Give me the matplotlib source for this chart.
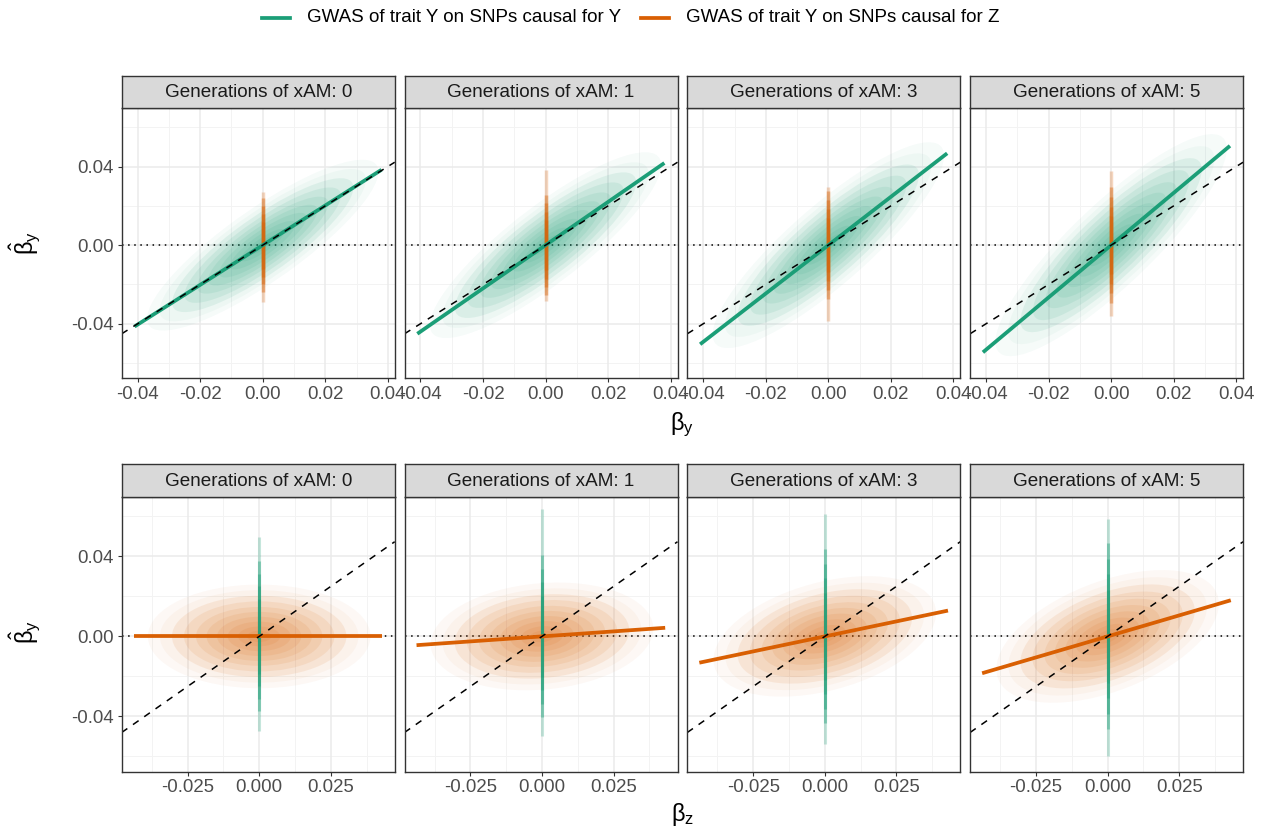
import numpy as np
import matplotlib
matplotlib.use("Agg")
import matplotlib.pyplot as plt
from matplotlib.patches import Ellipse
from matplotlib.lines import Line2D

plt.rcParams['font.family'] = ['Liberation Sans', 'DejaVu Sans']
plt.rcParams['mathtext.fontset'] = 'custom'
plt.rcParams['mathtext.rm'] = 'Liberation Sans'
plt.rcParams['mathtext.it'] = 'Liberation Sans'
plt.rcParams['mathtext.bf'] = 'Liberation Sans:bold'

# ---------------- data ----------------
generations = [0, 1, 3, 5]
strip_labels = [f"Generations of xAM: {g}" for g in generations]
legend_labels = ["GWAS of trait Y on SNPs causal for Y",
                 "GWAS of trait Y on SNPs causal for Z"]

# top row: beta_hat_y vs beta_y
top_slopes = [1.01, 1.10, 1.23, 1.33]
top_fit_x = [-0.041, 0.038]
top_cloud_xsd = [0.0100, 0.0100, 0.0100, 0.0100]
top_cloud_resid = [0.0060, 0.0065, 0.0070, 0.0075]
top_strip_sd = [0.0080, 0.0085, 0.0092, 0.0098]
top_strip_range = [(-0.029, 0.027), (-0.0285, 0.0385),
                   (-0.0386, 0.0297), (-0.036, 0.0376)]

# bottom row: beta_hat_y vs beta_z
bottom_slopes = [0.0, 0.10, 0.30, 0.42]
bottom_fit_x = [-0.0438, 0.0430]
bottom_cloud_xsd = [0.0105, 0.0105, 0.0105, 0.0105]
bottom_cloud_resid = [0.0070, 0.0072, 0.0075, 0.0078]
bottom_strip_sd = [0.0125, 0.0135, 0.0145, 0.0155]
bottom_strip_range = [(-0.0475, 0.0495), (-0.0497, 0.0637),
                      (-0.054, 0.061), (-0.0597, 0.0587)]

top_xticks = [-0.04, -0.02, 0.00, 0.02, 0.04]
top_xticklabels = ["-0.04", "-0.02", "0.00", "0.02", "0.04"]
top_xminor = [-0.03, -0.01, 0.01, 0.03]
bottom_xticks = [-0.025, 0.0, 0.025]
bottom_xticklabels = ["-0.025", "0.000", "0.025"]
bottom_xminor = [-0.0375, -0.0125, 0.0125, 0.0375]
yticks = [-0.04, 0.0, 0.04]
yticklabels = ["-0.04", "0.00", "0.04"]
yminor = [-0.06, -0.02, 0.02, 0.06]

top_xlim = (-0.0451, 0.0422)
bottom_xlim = (-0.0480, 0.0473)
ylim = (-0.0676, 0.0698)

GREEN = "#1B9E77"
ORANGE = "#D95F02"

# ---------------- layout ----------------
W, H = 1265, 833
fig = plt.figure(figsize=(W / 100, H / 100), dpi=100)

def rect(x0, y0, x1, y1):
    return [x0 / W, 1 - y1 / H, (x1 - x0) / W, (y1 - y0) / H]

panel_lefts = [121.7, 404.5, 687.3, 970.1]
panel_w = 273.0
rows = [dict(top=108.0, bottom=378.0, strip_top=75.7),
        dict(top=496.7, bottom=771.7, strip_top=464.0)]

cloud_levels = [3.7, 3.3, 2.9, 2.5, 2.1, 1.75, 1.4, 1.05, 0.7, 0.4]


def draw_cloud(ax, xsd, slope, resid, color):
    cov = np.array([[xsd ** 2, slope * xsd ** 2],
                    [slope * xsd ** 2, slope ** 2 * xsd ** 2 + resid ** 2]])
    vals, vecs = np.linalg.eigh(cov)
    major = vecs[:, 1]
    angle = np.degrees(np.arctan2(major[1], major[0]))
    for i, k in enumerate(cloud_levels):
        a = 0.04 if i < 2 else 0.09
        e = Ellipse((0, 0), 2 * k * np.sqrt(vals[1]), 2 * k * np.sqrt(vals[0]),
                    angle=angle, facecolor=color, edgecolor='none', alpha=a, zorder=2)
        ax.add_patch(e)


def draw_strip(ax, sd, rng, color, lw):
    lo, hi = rng
    ax.plot([0, 0], [lo, hi], color=color, lw=lw, alpha=0.25,
            solid_capstyle='butt', zorder=3)
    for k in [3.0, 2.5, 2.0, 1.5]:
        ax.plot([0, 0], [max(lo, -k * sd), min(hi, k * sd)], color=color, lw=lw,
                alpha=0.4, solid_capstyle='butt', zorder=3)


for r, row in enumerate(rows):
    for c in range(4):
        x0 = panel_lefts[c]
        ax = fig.add_axes(rect(x0, row['top'], x0 + panel_w, row['bottom']))
        sax = fig.add_axes(rect(x0, row['strip_top'], x0 + panel_w, row['top']))
        # strip
        sax.set_facecolor('#D9D9D9')
        sax.set_xticks([]); sax.set_yticks([])
        for sp in sax.spines.values():
            sp.set_color('#333333'); sp.set_linewidth(1.0)
        sax.text(0.5, 0.47, strip_labels[c], ha='center', va='center',
                 fontsize=13.6, color='#1A1A1A', transform=sax.transAxes)

        if r == 0:
            xlim = top_xlim
            xt, xtl, xm = top_xticks, top_xticklabels, top_xminor
        else:
            xlim = bottom_xlim
            xt, xtl, xm = bottom_xticks, bottom_xticklabels, bottom_xminor
        ax.set_xlim(*xlim); ax.set_ylim(*ylim)

        # grid
        for v in xm:
            ax.axvline(v, color='#F3F3F3', lw=0.7, zorder=0)
        for v in yminor:
            ax.axhline(v, color='#F3F3F3', lw=0.7, zorder=0)
        for v in xt:
            ax.axvline(v, color='#EBEBEB', lw=1.1, zorder=0.5)
        for v in yticks:
            ax.axhline(v, color='#EBEBEB', lw=1.1, zorder=0.5)

        ax.axhline(0, color='black', lw=1.1, linestyle=(0, (1, 3)), zorder=1.5)

        if r == 0:
            draw_cloud(ax, top_cloud_xsd[c], top_slopes[c], top_cloud_resid[c], GREEN)
            draw_strip(ax, top_strip_sd[c], top_strip_range[c], ORANGE, 2.5)
            fx = np.array(top_fit_x)
            ax.plot(fx, top_slopes[c] * fx, color=GREEN, lw=2.7,
                    solid_capstyle='butt', zorder=5)
        else:
            draw_cloud(ax, bottom_cloud_xsd[c], bottom_slopes[c], bottom_cloud_resid[c], ORANGE)
            draw_strip(ax, bottom_strip_sd[c], bottom_strip_range[c], GREEN, 2.2)
            fx = np.array(bottom_fit_x)
            ax.plot(fx, bottom_slopes[c] * fx, color=ORANGE, lw=2.7,
                    solid_capstyle='butt', zorder=5)

        ax.axline((0, 0), slope=1, color='black', lw=1.1, dashes=(4.5, 4.5), zorder=6)

        ax.set_xticks(xt)
        ax.set_xticklabels(xtl)
        ax.tick_params(axis='both', length=3, width=0.8, color='#333333',
                       labelsize=13.4, labelcolor='#4D4D4D', pad=2.5)
        if c == 0:
            ax.set_yticks(yticks)
            ax.set_yticklabels(yticklabels)
        else:
            ax.set_yticks([])
        ax.set_facecolor('white')
        for sp in ax.spines.values():
            sp.set_color('#333333'); sp.set_linewidth(1.0); sp.set_zorder(10)

# axis titles
fig.text(682 / W, 1 - 425 / H, r'$\beta_y$', ha='center', va='center', fontsize=17)
fig.text(682 / W, 1 - 815 / H, r'$\beta_z$', ha='center', va='center', fontsize=17)
fig.text(25 / W, 1 - 243 / H, r'$\hat{\beta}_y$', ha='center', va='center',
         fontsize=17, rotation=90)
fig.text(25 / W, 1 - 632 / H, r'$\hat{\beta}_y$', ha='center', va='center',
         fontsize=17, rotation=90)

# legend
leg_y = 1 - 18 / H
for (lx0, lx1, tx), col, lab in zip([(262, 290, 307), (641, 669, 686)],
                                     [GREEN, ORANGE], legend_labels):
    fig.add_artist(Line2D([lx0 / W, lx1 / W], [leg_y, leg_y], color=col, lw=2.7,
                          transform=fig.transFigure))
    fig.text(tx / W, leg_y, lab, ha='left', va='center', fontsize=13.5, color='black')

fig.savefig('out.png', dpi=100)
